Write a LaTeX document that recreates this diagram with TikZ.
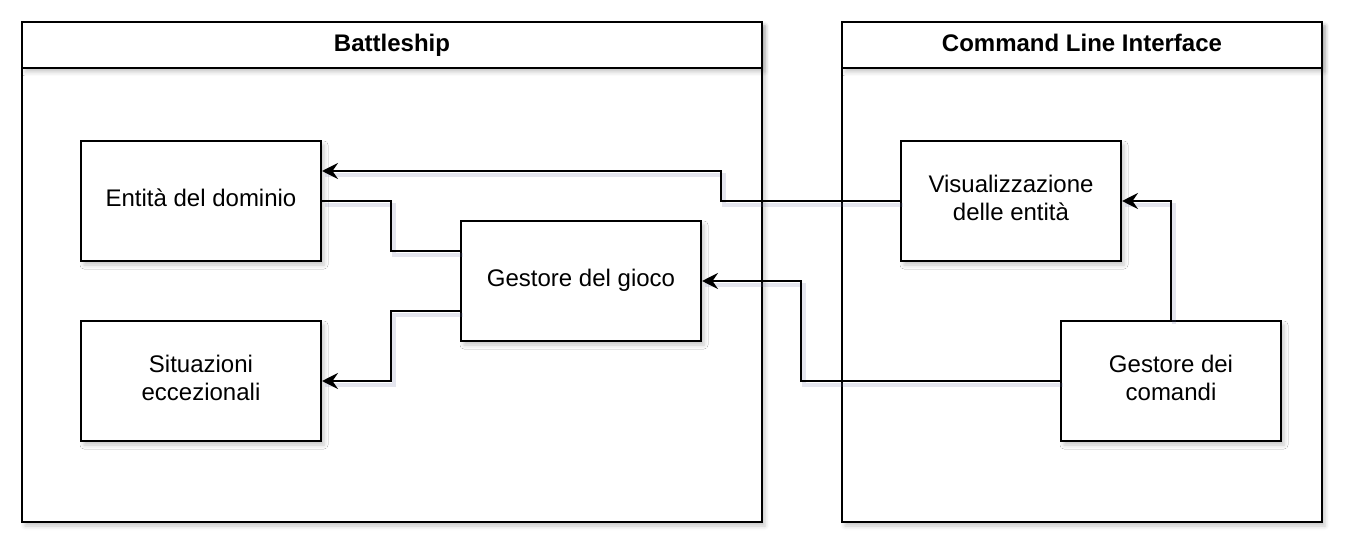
\documentclass[tikz,border=0pt]{standalone}
\usepackage{fontspec}
\setmainfont{Liberation Sans}
\usetikzlibrary{arrows.meta,shadows.blur}
\definecolor{shadowcol}{RGB}{110,115,165}
\tikzset{
  txt/.style={font=\fontsize{24}{27.6}\selectfont},
  shad/.style={blur shadow={shadow xshift=3pt, shadow yshift=-4pt, shadow blur radius=4pt, shadow opacity=22}},
  box/.style={draw=black, line width=2pt, fill=white, rectangle, inner sep=0pt, align=center, txt, shad,
    execute at end node={\rule[-6pt]{0pt}{0pt}}},
  cbody/.style={draw=black, line width=2pt, fill=white, rectangle, inner sep=0pt, shad, anchor=north west},
  chead/.style={cbody, font=\fontsize{24}{27.6}\selectfont\bfseries,
    execute at end node={\rule[-4pt]{0pt}{0pt}}},
  arr/.style={line width=2pt, -{Stealth[length=16pt,width=16pt,inset=5.5pt]},
    preaction={draw=shadowcol, draw opacity=0.18, line width=4pt, -, transform canvas={shift={(3pt,-4pt)}}}},
  ln/.style={line width=2pt,
    preaction={draw=shadowcol, draw opacity=0.18, line width=4pt, transform canvas={shift={(3pt,-4pt)}}}},
}
\begin{document}
\begin{tikzpicture}[x=1pt,y=-1pt]
\useasboundingbox (0,0) rectangle (1356,556);
% containers
\node[cbody, minimum width=740pt, minimum height=500pt] (bsbody) at (21,21) {};
\node[chead, minimum width=740pt, minimum height=46pt] (bshead) at (21,21) {Battleship};
\node[cbody, minimum width=480pt, minimum height=500pt] (clibody) at (841,21) {};
\node[chead, minimum width=480pt, minimum height=46pt] (clihead) at (841,21) {Command Line Interface};
% boxes
\node[box, minimum width=240pt, minimum height=120pt] (ent) at (201,201) {Entità del dominio};
\node[box, minimum width=240pt, minimum height=120pt] (sit) at (201,381) {Situazioni\\eccezionali};
\node[box, minimum width=240pt, minimum height=120pt] (gio) at (581,281) {Gestore del gioco};
\node[box, minimum width=220pt, minimum height=120pt] (vis) at (1011,201) {Visualizzazione\\delle entità};
\node[box, minimum width=220pt, minimum height=120pt] (com) at (1171,381) {Gestore dei\\comandi};
% connectors
\draw[arr] (vis.west) -- (721,201) -- (721,171) -- ([yshift=30pt]ent.east);
\draw[ln] (ent.east) -- (391,201) -- (391,251) -- ([yshift=30pt]gio.west);
\draw[arr] ([yshift=-30pt]gio.west) -- (391,311) -- (391,381) -- (sit.east);
\draw[arr] (com.west) -- (801,381) -- (801,281) -- (gio.east);
\draw[arr] (com.north) -- (1171,201) -- (vis.east);
\end{tikzpicture}
\end{document}
